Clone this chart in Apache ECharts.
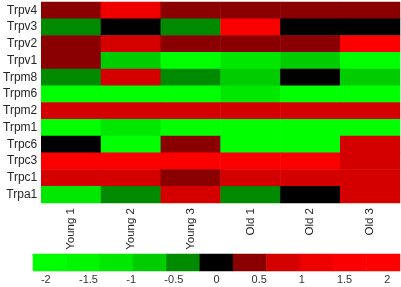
<!DOCTYPE html>
<html>
<head>
<meta charset="utf-8">
<script src="https://cdn.jsdelivr.net/npm/echarts@6/dist/echarts.min.js"></script>
<style>
  html, body { margin: 0; padding: 0; background: #fff; }
  #chart { width: 401px; height: 287px; }
</style>
</head>
<body>
<div id="chart"></div>
<script>
// genes, top to bottom
var genes = ['Trpv4', 'Trpv3', 'Trpv2', 'Trpv1', 'Trpm8', 'Trpm6', 'Trpm2', 'Trpm1', 'Trpc6', 'Trpc3', 'Trpc1', 'Trpa1'];
var samples = ['Young 1', 'Young 2', 'Young 3', 'Old 1', 'Old 2', 'Old 3'];

// one row per gene, one value per sample (estimated from colour)
var values = [
  [0.4, 1.2, 0.4, 0.4, 0.4, 0.4],
  [-0.4, 0, -0.4, 1.6, 0, 0],
  [0.4, 0.8, 0.4, 0.4, 0.4, 1.6],
  [0.4, -0.8, -2.0, -1.2, -0.8, -2.0],
  [-0.4, 0.8, -0.4, -0.8, 0, -0.8],
  [-2.0, -2.0, -2.0, -1.2, -2.0, -2.0],
  [0.8, 0.8, 0.8, 0.8, 0.8, 0.8],
  [-2.0, -1.2, -2.0, -2.0, -2.0, -2.0],
  [0, -2.0, 0.4, -2.0, -2.0, 0.8],
  [1.6, 1.6, 1.6, 1.6, 1.6, 0.8],
  [0.8, 0.8, 0.4, 0.8, 0.8, 0.8],
  [-1.2, -0.4, 0.8, -0.4, 0, 0.8]
];

// colour scale
var cmin = -2.15, cmax = 2.15;
var binColors = ['#00ff00', '#00f700', '#00e800', '#00cc00', '#008a00', '#000000',
                 '#8a0000', '#d40000', '#ee0000', '#fc0000', '#ff0000'];
var cbTicks = [-2, -1.5, -1, -0.5, 0, 0.5, 1, 1.5, 2];

var step = (cmax - cmin) / binColors.length;
var pieces = binColors.map(function (c, i) {
  return { gte: cmin + i * step, lt: cmin + (i + 1) * step, color: c };
});

var heatData = [];
values.forEach(function (row, r) {
  row.forEach(function (v, c) { heatData.push([c, r, v]); });
});
var barData = binColors.map(function (c, i) { return [i, 0, cmin + (i + 0.5) * step]; });

var font = 'Liberation Sans, Arial, sans-serif';
var chart = echarts.init(document.getElementById('chart'));
chart.setOption({
  backgroundColor: '#fff',
  animation: false,
  textStyle: { fontFamily: font },
  grid: [
    { left: 34, right: 1, top: 2, height: 201 },
    { left: 33, right: 1, top: 254, height: 17 }
  ],
  xAxis: [
    {
      type: 'category', gridIndex: 0, data: samples,
      axisLine: { show: false }, axisTick: { show: false }, splitLine: { show: false },
      axisLabel: { rotate: 90, margin: 5, fontSize: 11.5, color: '#262626', fontFamily: font }
    },
    {
      type: 'category', gridIndex: 1, data: binColors.map(function (c, i) { return i; }),
      show: false
    },
    {
      type: 'value', gridIndex: 1, min: cmin, max: cmax, position: 'bottom',
      splitLine: { show: false }, axisLine: { show: false },
      axisTick: { show: true, inside: true, length: 3, customValues: cbTicks, lineStyle: { color: '#555' } },
      axisLabel: { customValues: cbTicks, margin: 3, fontSize: 11, color: '#333', fontFamily: font }
    }
  ],
  yAxis: [
    {
      type: 'category', gridIndex: 0, data: genes, inverse: true,
      axisLine: { show: false }, axisTick: { show: false }, splitLine: { show: false },
      axisLabel: { margin: 4, fontSize: 12, color: '#262626', fontFamily: font }
    },
    { type: 'category', gridIndex: 1, data: [''], show: false }
  ],
  visualMap: {
    type: 'piecewise', show: false, pieces: pieces, seriesIndex: [0, 1]
  },
  series: [
    {
      type: 'heatmap', xAxisIndex: 0, yAxisIndex: 0, data: heatData,
      emphasis: { disabled: true }
    },
    {
      type: 'heatmap', xAxisIndex: 1, yAxisIndex: 1, data: barData,
      emphasis: { disabled: true }
    }
  ]
});
</script>
</body>
</html>
